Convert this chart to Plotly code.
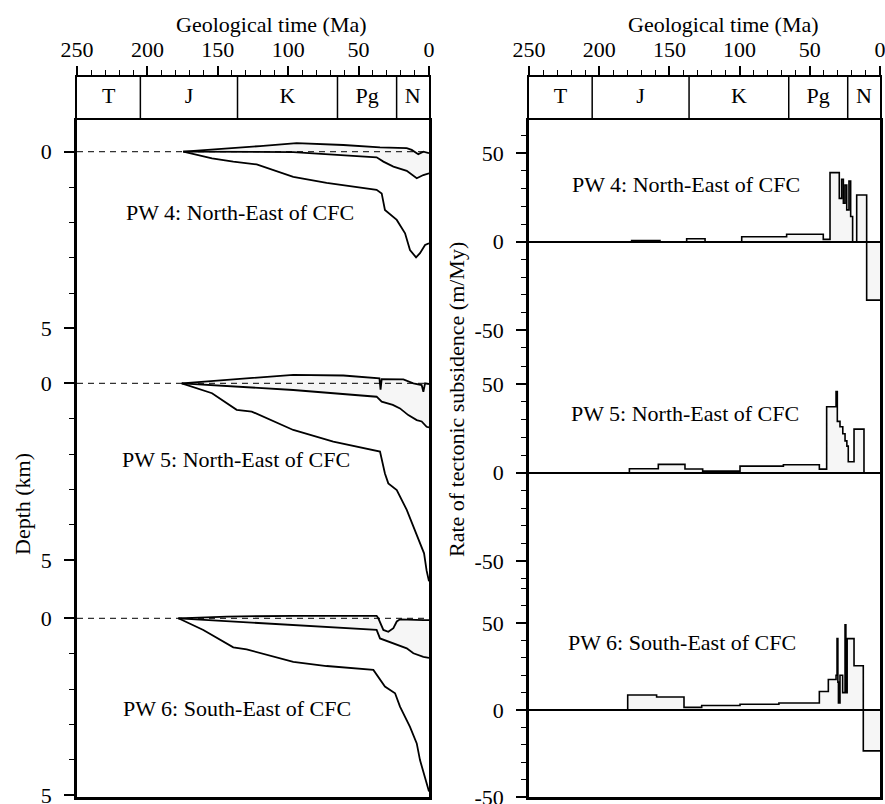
import plotly.graph_objects as go

W, H = 885, 804
FONT = "Liberation Serif"

# ---- geological time scale (Ma) ----
period_names = ["T", "J", "K", "Pg", "N"]
period_bounds = [250, 205, 136, 65, 23, 0]
time_range = [250, 0]

# ---- axis tick labels ----
depth_ticks = [0, 5]
rate_ticks = [-50, 0, 50]
rate_tick_text = ["-50", "0", "50"]

# ---- backstripped burial curves: age (Ma) / depth (km) ----
# PW 4
pw4_top_age = [174.5, 143.7, 120, 94, 60.8, 34.8, 15.8, 12.3, 7.6, 4, 0]
pw4_top_depth = [0, -0.10, -0.16, -0.24, -0.19, -0.12, -0.10, -0.05, 0.07, 0.0, 0.04]
pw4_mid_age = [174.5, 96.4, 37.2, 32.4, 25.3, 15.8, 8.7, 4, 0]
pw4_mid_depth = [0, 0.01, 0.16, 0.28, 0.42, 0.54, 0.75, 0.66, 0.61]
pw4_base_age = [174.5, 154.1, 139, 122.4, 96.4, 72.7, 37.2, 33.6, 31.3, 22.9, 17, 13.5, 9.2, 6.4, 2.8, 0]
pw4_base_depth = [0, 0.19, 0.28, 0.36, 0.71, 0.88, 1.08, 1.18, 1.65, 1.93, 2.31, 2.78, 2.99, 2.87, 2.64, 2.59]

# PW 5
pw5_top_age = [175.6, 143.7, 115.3, 96.4, 60.8, 35.2, 34.4, 33.6, 18.2, 11.1, 5.2, 4.0, 2.8, 0]
pw5_top_depth = [0, -0.09, -0.17, -0.24, -0.22, -0.14, 0.18, -0.12, -0.11, 0.0, 0.05, 0.24, 0.0, 0.02]
pw5_mid_age = [175.6, 96.4, 37.2, 33.6, 25.7, 20.6, 14.7, 8.7, 5.2, 1.7, 0]
pw5_mid_depth = [0, 0.19, 0.38, 0.52, 0.61, 0.71, 0.90, 1.04, 1.08, 1.23, 1.25]
pw5_base_age = [175.6, 154.1, 136.6, 125.9, 96.4, 68, 34.8, 31.3, 28.9, 22.9, 15.8, 11.1, 6.4, 3.5, 1.7, 0]
pw5_base_depth = [0, 0.28, 0.75, 0.80, 1.32, 1.65, 1.93, 2.55, 2.83, 3.02, 3.58, 4.06, 4.53, 4.81, 5.3, 5.6]

# PW 6
pw6_top_age = [178, 143.7, 96.4, 37.2, 36, 32.4, 28.9, 25.3, 22.9, 20.6, 4, 0]
pw6_top_depth = [0, -0.05, -0.07, -0.07, 0.0, 0.33, 0.38, 0.28, 0.09, 0.03, 0.05, 0.05]
pw6_mid_age = [178, 96.4, 37.2, 34.8, 25.3, 15.8, 11.1, 4, 0]
pw6_mid_depth = [0, 0.19, 0.33, 0.57, 0.71, 0.85, 0.99, 1.09, 1.12]
pw6_base_age = [178, 160.3, 139, 129.5, 96.4, 72.7, 39.5, 36, 31.3, 24.1, 20.6, 13.5, 8.7, 6.4, 4.5, 2, 0]
pw6_base_depth = [0, 0.33, 0.82, 0.88, 1.23, 1.35, 1.46, 1.65, 1.93, 2.12, 2.5, 3.07, 3.54, 4.01, 4.29, 4.6, 4.9]

# ---- tectonic subsidence rate (m/My): interval start age and rate ----
pw4_rate_start = [250, 176.9, 156.7, 137.7, 124.6, 98.5, 66.5, 40.4, 35.6, 29.0, 27.3, 26.1, 24.9, 23.7, 22.1, 20.9, 19.5, 16.6, 9.5]
pw4_rate = [0, 0.6, 0, 1.7, 0, 2.8, 4.2, 1.3, 39, 24.5, 35.3, 21.7, 32, 18, 34.3, 14.2, 0, 26.4, -33]

pw5_rate_start = [250, 178.5, 157.9, 138.9, 126.3, 99.7, 68.8, 43.2, 38.0, 31.3, 30.4, 28.5, 26.5, 24.9, 23.6, 22.6, 18.5, 11.4]
pw5_rate = [0, 2.2, 4.7, 2.1, 0.9, 3.7, 4.5, 2.0, 37.3, 45.9, 29.0, 26.0, 22.0, 18.0, 15.0, 6.2, 24.6, 0]

pw6_rate_start = [250, 179.7, 159.1, 139.6, 127.0, 99.7, 72.0, 43.2, 36.8, 31.3, 30.6, 30.0, 29.6, 28.5, 26.6, 24.9, 24.3, 23.4, 18.5, 11.9]
pw6_rate = [0, 8.6, 7.5, 1.5, 2.6, 3.3, 4.0, 10.6, 17.5, 20.0, 41.0, 16.0, 4.0, 20.0, 10.0, 49.0, 10.0, 41.0, 25.4, -23.5]

wells = ["PW 4: North-East of CFC", "PW 5: North-East of CFC", "PW 6: South-East of CFC"]

burial = [
    (pw4_top_age, pw4_top_depth, pw4_mid_age, pw4_mid_depth, pw4_base_age, pw4_base_depth),
    (pw5_top_age, pw5_top_depth, pw5_mid_age, pw5_mid_depth, pw5_base_age, pw5_base_depth),
    (pw6_top_age, pw6_top_depth, pw6_mid_age, pw6_mid_depth, pw6_base_age, pw6_base_depth),
]
rates = [(pw4_rate_start, pw4_rate), (pw5_rate_start, pw5_rate), (pw6_rate_start, pw6_rate)]

# ---- layout geometry (pixels) ----
LEFT_X = [77, 429]
RIGHT_X = [529, 880]
HEADER_Y = [77, 118]
# (top px, bottom px, px of zero, px per unit)
left_rows = [(118, 356, 151.7, 35.35), (356, 590, 383.3, 35.35), (590, 797, 618.3, 35.35)]
right_rows = [(118, 350, 241.7, 1.77), (350, 585, 472.7, 1.77), (585, 797, 710.0, 1.74)]


def xdom(px):
    return [px[0] / W, px[1] / W]


def ydom(top, bot):
    return [1 - bot / H, 1 - top / H]


fig = go.Figure()
layout = dict(
    template="none",
    width=W, height=H, margin=dict(l=0, r=0, t=0, b=0, pad=0),
    paper_bgcolor="white", plot_bgcolor="white", showlegend=False,
    font=dict(family=FONT, size=22, color="black"),
)

tick_font = dict(family=FONT, size=22, color="black")


def header(idx, xpx):
    xa = "xaxis" if idx == 1 else f"xaxis{idx}"
    ya = "yaxis" if idx == 1 else f"yaxis{idx}"
    xr = "x" if idx == 1 else f"x{idx}"
    yr = "y" if idx == 1 else f"y{idx}"
    layout[xa] = dict(domain=xdom(xpx), range=time_range, anchor=yr, side="top",
                      tickmode="linear", tick0=0, dtick=50, ticks="outside", ticklen=9,
                      tickwidth=1.5, tickcolor="black",
                      minor=dict(dtick=10, ticks="outside", ticklen=5, tickwidth=1.2, tickcolor="black"),
                      showline=True, linewidth=2, linecolor="black", mirror=True,
                      showgrid=False, zeroline=False, tickfont=tick_font, fixedrange=True,
                      automargin=False, ticklabeloverflow="allow")
    layout[ya] = dict(domain=ydom(*HEADER_Y), range=[0, 1], anchor=xr, showticklabels=False,
                      ticks="", showline=True, linewidth=2, linecolor="black", mirror=True,
                      showgrid=False, zeroline=False, fixedrange=True, automargin=False)
    bx, by = [], []
    for b in period_bounds[1:-1]:
        bx += [b, b, None]
        by += [0, 1, None]
    fig.add_trace(go.Scatter(x=bx, y=by, mode="lines", line=dict(color="black", width=1.5),
                             xaxis=xr, yaxis=yr, hoverinfo="skip"))
    mids = [(a + b) / 2 for a, b in zip(period_bounds[:-1], period_bounds[1:])]
    fig.add_trace(go.Scatter(x=mids, y=[0.5] * len(mids), mode="text", text=period_names,
                             textfont=dict(family=FONT, size=22, color="black"),
                             xaxis=xr, yaxis=yr, hoverinfo="skip"))


header(1, LEFT_X)
header(5, RIGHT_X)

# ---- left panels: burial curves ----
for i, (top, bot, zero, scale) in enumerate(left_rows):
    idx = 2 + i
    xr, yr = f"x{idx}", f"y{idx}"
    rng = [(bot - zero) / scale, -(zero - top) / scale]
    layout[f"xaxis{idx}"] = dict(domain=xdom(LEFT_X), range=time_range, anchor=yr,
                                 showticklabels=False, ticks="", showgrid=False, zeroline=False,
                                 showline=(i == 2), linewidth=2.5, linecolor="black",
                                 fixedrange=True, automargin=False)
    layout[f"yaxis{idx}"] = dict(domain=ydom(top, bot), range=rng, anchor=xr,
                                 tickmode="array", tickvals=depth_ticks, ticks="outside", ticklen=10,
                                 tickwidth=1.5, tickcolor="black",
                                 minor=dict(tickmode="linear", tick0=0, dtick=1, ticks="outside",
                                            ticklen=5, tickwidth=1.2, tickcolor="black"),
                                 showline=True, linewidth=2.5, linecolor="black", mirror=True,
                                 showgrid=False, zeroline=False, tickfont=tick_font,
                                 ticklabelstandoff=8, fixedrange=True, automargin=False,
                                 ticklabeloverflow="allow")
    ta, td, ma, md, ba, bd = burial[i]
    fig.add_trace(go.Scatter(x=time_range, y=[0, 0], mode="lines",
                             line=dict(color="#333", width=1.2, dash="6px,5px"),
                             xaxis=xr, yaxis=yr, hoverinfo="skip"))
    fig.add_trace(go.Scatter(x=ma, y=md, mode="lines", line=dict(color="black", width=1.8),
                             xaxis=xr, yaxis=yr, hoverinfo="skip"))
    fig.add_trace(go.Scatter(x=ta, y=td, mode="lines", line=dict(color="black", width=1.8),
                             fill="tonexty", fillcolor="rgba(0,0,0,0.035)",
                             xaxis=xr, yaxis=yr, hoverinfo="skip"))
    fig.add_trace(go.Scatter(x=ba, y=bd, mode="lines", line=dict(color="black", width=1.8),
                             xaxis=xr, yaxis=yr, hoverinfo="skip"))

# ---- right panels: subsidence rate histograms ----
for i, (top, bot, zero, scale) in enumerate(right_rows):
    idx = 6 + i
    xr, yr = f"x{idx}", f"y{idx}"
    rng = [-(bot - zero) / scale, (zero - top) / scale]
    layout[f"xaxis{idx}"] = dict(domain=xdom(RIGHT_X), range=time_range, anchor=yr,
                                 showticklabels=False, ticks="", showgrid=False, zeroline=False,
                                 showline=(i == 2), linewidth=2.5, linecolor="black",
                                 fixedrange=True, automargin=False)
    layout[f"yaxis{idx}"] = dict(domain=ydom(top, bot), range=rng, anchor=xr,
                                 tickmode="array", tickvals=rate_ticks, ticktext=rate_tick_text,
                                 ticks="outside", ticklen=10, tickwidth=1.5, tickcolor="black",
                                 minor=dict(tickmode="linear", tick0=0, dtick=10, ticks="outside",
                                            ticklen=5, tickwidth=1.2, tickcolor="black"),
                                 showline=True, linewidth=2.5, linecolor="black", mirror=True,
                                 showgrid=False, zeroline=True, zerolinecolor="black", zerolinewidth=1.5,
                                 tickfont=tick_font, ticklabelstandoff=8, fixedrange=True,
                                 automargin=False, ticklabeloverflow="allow")
    starts, vals = rates[i]
    fig.add_trace(go.Scatter(x=list(starts) + [0], y=list(vals) + [vals[-1]], mode="lines",
                             line=dict(color="black", width=1.6, shape="hv"),
                             fill="tozeroy", fillcolor="rgba(0,0,0,0.035)",
                             xaxis=xr, yaxis=yr, hoverinfo="skip"))

# ---- text ----
ann = []
def px_ann(text, x, y, angle=0):
    ann.append(dict(text=text, x=x / W, y=1 - y / H, xref="paper", yref="paper",
                    showarrow=False, textangle=angle, xanchor="center", yanchor="middle",
                    font=dict(family=FONT, size=22, color="black")))

px_ann("Geological time (Ma)", 271, 25)
px_ann("Geological time (Ma)", 723, 25)
px_ann("Depth (km)", 22, 504, -90)
px_ann("Rate of tectonic subsidence (m/My)", 457, 400, -90)
for name, (lx, ly), (rx, ry) in zip(wells,
                                    [(240, 212), (236, 460), (236.5, 708)],
                                    [(686, 185), (685, 413), (682, 642)]):
    px_ann(name, lx, ly)
    px_ann(name, rx, ry)

layout["annotations"] = ann
fig.update_layout(**layout)
fig.write_html("out.html")
